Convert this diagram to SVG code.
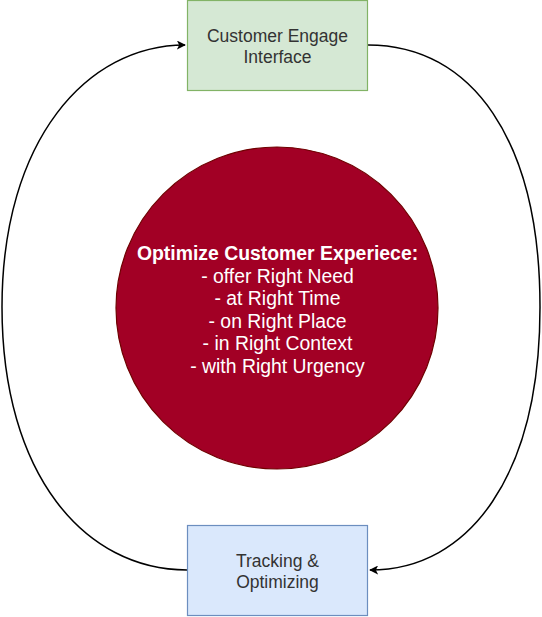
<svg xmlns="http://www.w3.org/2000/svg" width="542" height="617" viewBox="0 0 542 617">
<style>
.lbl{font-family:"Liberation Sans",Arial,sans-serif;font-size:17.5px;fill:#333333;text-anchor:middle}
.ctext{font-family:"Liberation Sans",Arial,sans-serif;font-size:19.4px;fill:#ffffff;text-anchor:middle}
.edge{fill:none;stroke:#000000;stroke-width:1.5}
</style>
<defs>
<marker id="arr" viewBox="0 0 10 10" refX="9" refY="5" markerWidth="9" markerHeight="9" markerUnits="userSpaceOnUse" orient="auto">
<path d="M0,0 L10,5 L0,10 L2.5,5 Z" fill="#000000"/>
</marker>
</defs>
<rect width="542" height="617" fill="#ffffff"/>
<g id="connectors">
<path class="edge" d="M368,45 C472,45 540,140 540,307 C540,475 470,570 370,570" marker-end="url(#arr)"/>
<path class="edge" d="M187,570 C85,570 2,475 2,307 C2,140 87,45 185,45" marker-end="url(#arr)"/>
</g>
<g id="engage">
<rect x="187.5" y="0.5" width="180" height="90" fill="#d5e8d4" stroke="#82b366" stroke-width="1.2"/>
<text class="lbl" x="277.5" y="42">Customer Engage</text>
<text class="lbl" x="277.5" y="63">Interface</text>
</g>
<g id="center">
<circle cx="277" cy="308" r="161" fill="#a20025" stroke="#6f0000" stroke-width="1.2"/>
<text class="ctext" x="277.5" y="260" font-weight="bold">Optimize Customer Experiece:</text>
<text class="ctext" x="277.5" y="282.5">- offer Right Need</text>
<text class="ctext" x="277.5" y="305">- at Right Time</text>
<text class="ctext" x="277.5" y="327.5">- on Right Place</text>
<text class="ctext" x="277.5" y="350">- in Right Context</text>
<text class="ctext" x="277.5" y="372.5">- with Right Urgency</text>
</g>
<g id="tracking">
<rect x="187.5" y="525.5" width="180" height="90" fill="#dae8fc" stroke="#6c8ebf" stroke-width="1.2"/>
<text class="lbl" x="277.5" y="567">Tracking &amp;</text>
<text class="lbl" x="277.5" y="588">Optimizing</text>
</g>
</svg>
